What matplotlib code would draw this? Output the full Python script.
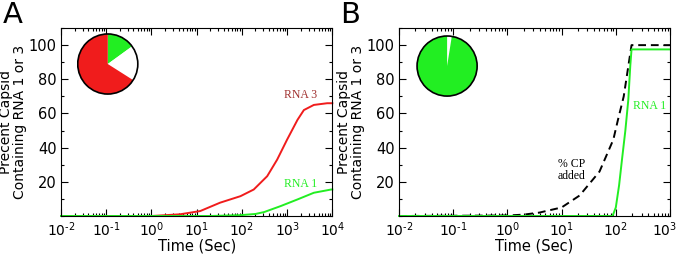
import matplotlib
matplotlib.use("Agg")
import numpy as np
import matplotlib.pyplot as plt
from matplotlib.transforms import ScaledTranslation
from matplotlib.ticker import LogLocator, MultipleLocator, FixedLocator, FuncFormatter

# panel A
t_a = [0.01, 1, 4.3, 12, 33, 93, 183, 363, 603, 1000, 1700, 2350, 3900, 7700, 10000]
rna3_a = [0, 0, 1, 2.9, 7.8, 11.6, 15.5, 23.3, 33, 44.7, 56.3, 62, 65, 66, 66]
t_a1 = [0.01, 20, 93, 200, 310, 720, 1700, 3900, 9400, 10000]
rna1_a = [0, 0, 0.5, 1.2, 2.3, 5.8, 9.7, 13.6, 15.5, 15.5]
pie_a = [15, 19, 66]  # RNA 1, empty, RNA 3

# panel B
t_cp = [0.01, 1, 2, 3.9, 10, 21.5, 50, 90, 109, 140, 195, 1000]
cp_added = [0, 0.3, 0.8, 2, 5, 12, 26, 44.7, 56, 70, 100, 100]
t_b1 = [0.01, 87, 100, 115, 130, 150, 170, 185, 195, 1000]
rna1_b = [0, 0, 5, 18, 33, 50, 68, 88, 97.5, 97.5]
pie_b = [2.5, 97.5]  # empty, RNA 1

RED = "#f01c1c"
GREEN = "#22ee22"


def pow_label(x, pos):
    e = int(round(np.log10(x)))
    if e < 0:
        return r"$\mathdefault{10^{\text{-}%d}}$" % -e
    return r"$\mathdefault{10^{%d}}$" % e


fig = plt.figure(figsize=(6.8, 2.54), dpi=100)


def style_axis(ax, emax):
    ax.set_xscale("log")
    ax.set_xlim(1e-2, 10.0 ** emax)
    ax.set_ylim(0, 110)
    ax.yaxis.set_major_locator(FixedLocator([20, 40, 60, 80, 100]))
    ax.yaxis.set_minor_locator(MultipleLocator(10))
    ax.xaxis.set_major_locator(FixedLocator([10.0 ** e for e in range(-2, emax + 1)]))
    ax.xaxis.set_minor_locator(LogLocator(base=10, subs=range(2, 10), numticks=20))
    ax.xaxis.set_major_formatter(FuncFormatter(pow_label))
    ax.tick_params(which="both", direction="in", top=True, right=True,
                   labelsize=10.5, width=0.8)
    ax.tick_params(axis="x", labelsize=10)
    ax.tick_params(which="major", length=5, pad=3)
    ax.tick_params(which="minor", length=2.5)
    ax.set_xlabel("Time (Sec)", fontsize=10.5, labelpad=0)
    ax.set_ylabel("Precent Capsid\nContaining RNA 1 or 3", fontsize=10,
                  labelpad=1, linespacing=1.0)


ax1 = fig.add_axes([0.0897, 0.1496, 0.399, 0.740])
ax1.plot(t_a, rna3_a, color=RED, lw=1.4, clip_on=False)
ax1.plot(t_a1, rna1_a, color=GREEN, lw=1.4, clip_on=False)
style_axis(ax1, 4)
ax1.text(2000, 67.5, "RNA 3", color="#a0302f", fontsize=8.5,
         family="Liberation Serif", ha="center", va="bottom")
ax1.text(2000, 15.5, "RNA 1", color=GREEN, fontsize=8.5,
         family="Liberation Serif", ha="center", va="bottom")
fig.text(0.004, 0.995, "A", fontsize=21, va="top", ha="left")

ax2 = fig.add_axes([0.5868, 0.1496, 0.3985, 0.740])
ax2.plot(t_cp, cp_added, color="black", lw=1.4, dashes=(4, 2.5), clip_on=False)
ax2.plot(t_b1, rna1_b, color=GREEN, lw=1.4, clip_on=False)
style_axis(ax2, 3)
ax2.text(15, 27, "% CP\nadded", color="black", fontsize=8.5,
         family="Liberation Serif", ha="center", va="center", linespacing=1.0)
ax2.text(420, 64.5, "RNA 1", color=GREEN, fontsize=8.5,
         family="Liberation Serif", ha="center", va="center")
fig.text(0.5, 0.995, "B", fontsize=21, va="top", ha="left")

# nudge the last B tick label so it stays inside the figure
last = ax2.xaxis.get_major_ticks()[-1].label1
last.set_transform(last.get_transform() + ScaledTranslation(-4 / 72, 0, fig.dpi_scale_trans))

# pie insets
pa = fig.add_axes([0.113, 0.626, 0.091, 0.244])
pa.pie(pie_a, colors=[GREEN, "white", RED], startangle=90, counterclock=False,
       wedgeprops=dict(linewidth=0))
pa.add_patch(plt.Circle((0, 0), 1, fill=False, edgecolor="black", lw=1.2))
pa.set_xlim(-1.03, 1.03)
pa.set_ylim(-1.03, 1.03)
pa.set_aspect("equal")

pb = fig.add_axes([0.612, 0.618, 0.091, 0.244])
pb.pie(pie_b, colors=["white", GREEN], startangle=90, counterclock=False,
       wedgeprops=dict(linewidth=0))
pb.add_patch(plt.Circle((0, 0), 1, fill=False, edgecolor="black", lw=1.2))
pb.set_xlim(-1.03, 1.03)
pb.set_ylim(-1.03, 1.03)
pb.set_aspect("equal")

fig.savefig("out.png", dpi=100)
